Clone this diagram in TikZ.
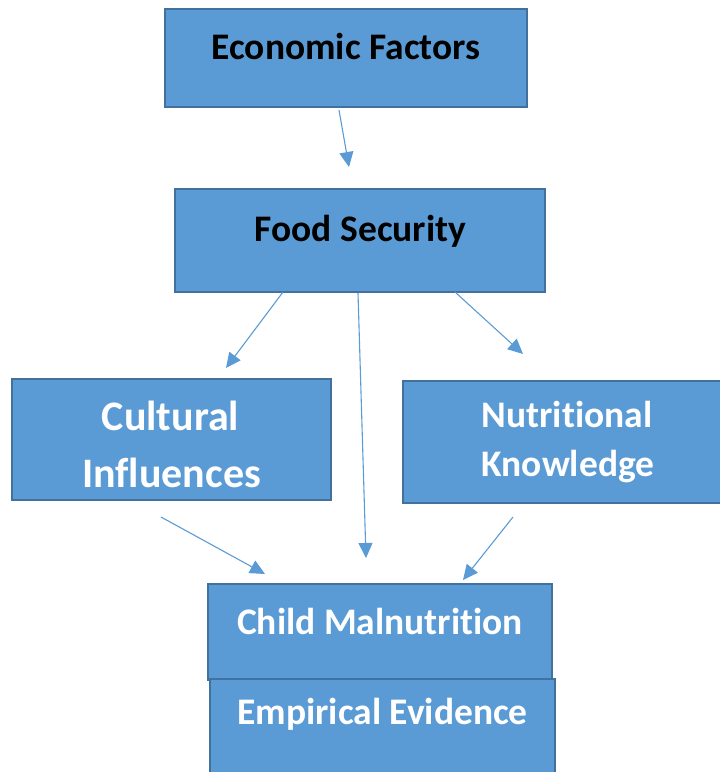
\documentclass[tikz,border=0pt]{standalone}
\usepackage{fontspec}
\setmainfont{Carlito}[Ligatures={NoCommon}]
\usetikzlibrary{arrows.meta}
\definecolor{boxfill}{HTML}{5B9BD5}
\definecolor{boxline}{HTML}{41719C}
\begin{document}
\begin{tikzpicture}[x=1pt,y=-1pt,
  box/.style={draw=boxline, fill=boxfill, line width=2.2pt, rectangle, inner sep=0pt},
  lbl/.style={anchor=base, inner sep=0pt, font=\fontsize{37.5}{40}\selectfont\bfseries},
  biglbl/.style={lbl, font=\fontsize{42}{46}\selectfont\bfseries},
  link/.style={draw=boxfill, line width=1.1pt, -{Triangle[length=15pt,width=14pt]}}]
\useasboundingbox (0,0) rectangle (720,772);
\clip (0,0) rectangle (720,772);

% boxes
\node[box, minimum width=362pt, minimum height=98pt] (eco) at (346,58) {};
\node[box, minimum width=370pt, minimum height=103pt] (food) at (360,240.5) {};
\node[box, minimum width=319pt, minimum height=121pt] (cult) at (171.5,439.5) {};
\node[box, minimum width=337pt, minimum height=122pt] (nutr) at (571.5,442) {};
\node[box, minimum width=344pt, minimum height=96pt] (child) at (380,632) {};
\node[box, minimum width=345pt, minimum height=96pt] (emp) at (382.5,727) {};

% labels
\node[lbl, text=black] (ecoT) at (346,59) {Economic Factors};
\node[lbl, text=black] (foodT) at (360.5,241) {Food Security};
\node[biglbl, text=white] (cultT1) at (170.5,430) {Cultural};
\node[biglbl, text=white] (cultT2) at (171.5,487) {Influences};
\node[lbl, text=white] (nutrT1) at (567,427) {Nutritional};
\node[lbl, text=white] (nutrT2) at (568,476) {Knowledge};
\node[lbl, text=white] (childT) at (380,634) {Child Malnutrition};
\node[lbl, text=white] (empT) at (382.5,724) {Empirical Evidence};

% connector end points
\coordinate (e1) at (339,110);  \coordinate (f1) at (349,167);
\coordinate (f2) at (283,292);  \coordinate (c2) at (226,368);
\coordinate (f3) at (358,293);  \coordinate (m3) at (366,558);
\coordinate (f4) at (455,292);  \coordinate (n4) at (523,354);
\coordinate (c5) at (161,517);  \coordinate (m5) at (265,574);
\coordinate (n6) at (513,517);  \coordinate (m6) at (463,580);

% connectors
\draw[link] (e1) -- (f1);
\draw[link] (f2) -- (c2);
\draw[link] (f3) -- (m3);
\draw[link] (f4) -- (n4);
\draw[link] (c5) -- (m5);
\draw[link] (n6) -- (m6);
\end{tikzpicture}
\end{document}
